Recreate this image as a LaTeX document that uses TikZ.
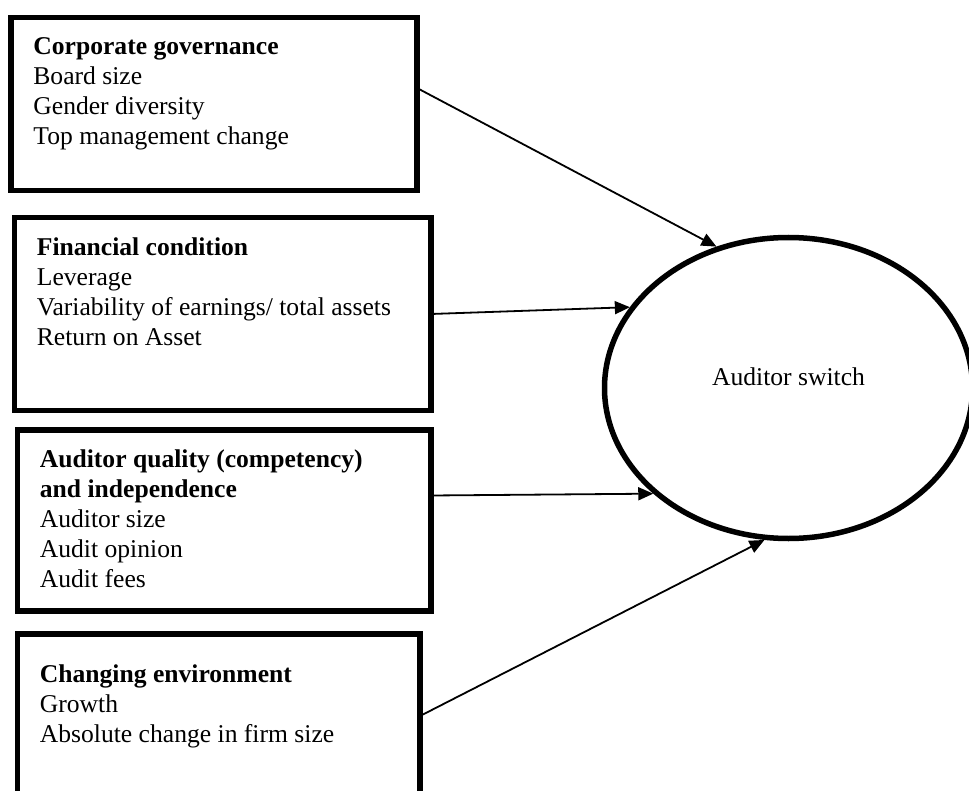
\documentclass[tikz,border=0pt]{standalone}
\usepackage{fontspec}
\setmainfont{Liberation Serif}
\usepackage{tikz}
\usetikzlibrary{arrows.meta, shapes.geometric}

\begin{document}
\begin{tikzpicture}[x=0.5pt, y=-0.5pt,
    varbox/.style={draw, line width=2.75pt, outer sep=0pt, anchor=north west},
    vartext/.style={anchor=north west, align=left, inner sep=0pt, font=\fontsize{12.8}{15}\selectfont},
    link/.style={line width=0.9pt, -{Triangle[length=7.5pt, width=6.5pt]}}]
  \useasboundingbox (0,0) rectangle (969,791);
  % four boxes on the left
  \node[varbox, minimum width=203pt, minimum height=86.5pt] (gov) at (11,17.5) {};
  \node[varbox, minimum width=208.25pt, minimum height=96.5pt] (fin) at (14.5,217.5) {};
  \node[varbox, minimum width=206.75pt, minimum height=90.5pt] (aud) at (17.5,430) {};
  \node[varbox, minimum width=201.25pt, minimum height=82pt] (env) at (17.5,634) {};
  % their texts
  \node[vartext] (govtxt) at ([shift={(22,20)}]gov.north west)
    {\textbf{Corporate governance}\\Board size\\Gender diversity\\Top management change};
  \node[vartext] (fintxt) at ([shift={(22,20)}]fin.north west)
    {\textbf{Financial condition}\\Leverage\\Variability of earnings/ total assets\\Return on Asset};
  \node[vartext] (audtxt) at ([shift={(22,19)}]aud.north west)
    {\textbf{Auditor quality (competency)}\\\textbf{and independence}\\Auditor size\\Audit opinion\\Audit fees};
  \node[vartext] (envtxt) at ([shift={(22,30)}]env.north west)
    {\textbf{Changing environment}\\Growth\\Absolute change in firm size};
  % the ellipse on the right
  \node[draw, ellipse, line width=2.75pt, minimum width=184pt, minimum height=150.5pt, inner sep=0pt] (sw) at (788.5,388) {};
  \node[font=\fontsize{12.8}{15}\selectfont] (swtxt) at ([yshift=5.5pt]sw.center) {Auditor switch};
  % arrows
  \draw[link] ([yshift=8pt]gov.east) -- (sw.117.9);
  \draw[link] (fin.east) -- (sw.153.3);
  \draw[link] ([yshift=12.5pt]aud.east) -- (sw.218.9);
  \draw[link] (env.east) -- (sw.261.4);
\end{tikzpicture}
\end{document}
